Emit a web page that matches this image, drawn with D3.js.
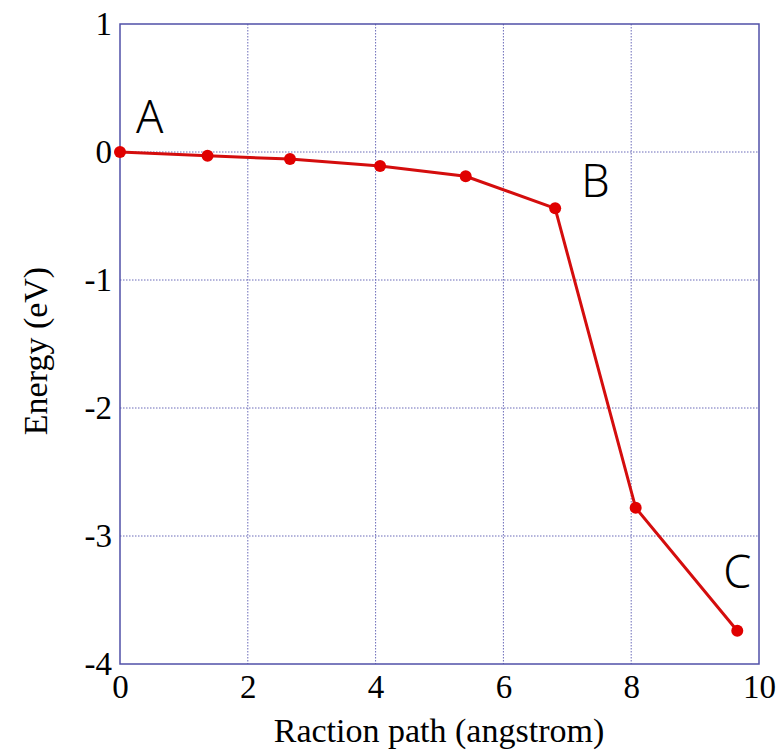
<!DOCTYPE html>
<html><head><meta charset="utf-8">
<script src="https://cdn.jsdelivr.net/npm/d3@7"></script>
<style>body{margin:0;background:#fff}</style>
</head><body>
<svg id="c" width="779" height="751"></svg>
<script>
const pathX = [0, 1.37, 2.66, 4.07, 5.41, 6.81, 8.07, 9.66];
const energy = [0, -0.03, -0.055, -0.11, -0.19, -0.44, -2.78, -3.74];
const xTicks = [0, 2, 4, 6, 8, 10];
const yTicks = [1, 0, -1, -2, -3, -4];
const pointLabels = [{name:"A", x:0.25, y:0.148}, {name:"B", x:7.22, y:-0.35}, {name:"C", x:9.44, y:-3.41}];

const svg = d3.select("#c");
const L = 120, R = 759, T = 24, B = 664;
const x = d3.scaleLinear().domain([0, 10]).range([L, R]);
const y = d3.scaleLinear().domain([-4, 1]).range([B, T]);
const frameColor = "#5050a8";
const serif = "'Liberation Serif','Times New Roman',serif";

// grid
svg.append("g").selectAll("line").data(xTicks.filter(d => d > 0 && d < 10)).join("line")
  .attr("x1", d => x(d)).attr("x2", d => x(d)).attr("y1", T).attr("y2", B)
  .attr("stroke", "#6a6ab8").attr("stroke-width", 1).attr("stroke-dasharray", "1.5,1.5");
svg.append("g").selectAll("line").data(yTicks.filter(d => d > -4 && d < 1)).join("line")
  .attr("y1", d => y(d)).attr("y2", d => y(d)).attr("x1", L).attr("x2", R)
  .attr("stroke", "#6a6ab8").attr("stroke-width", 1).attr("stroke-dasharray", "1.5,1.5");

// frame
svg.append("rect").attr("x", L).attr("y", T).attr("width", R - L).attr("height", B - T)
  .attr("fill", "none").attr("stroke", frameColor).attr("stroke-width", 1.5);

// axes tick labels
const xAxis = svg.append("g").attr("transform", `translate(0,${B})`)
  .call(d3.axisBottom(x).tickValues(xTicks).tickSize(0).tickPadding(11).tickFormat(d3.format("d")));
xAxis.select(".domain").remove();
xAxis.selectAll("text").attr("font-family", serif).attr("font-size", 33).attr("fill", "#000");

const yAxis = svg.append("g").attr("transform", `translate(${L},0)`)
  .call(d3.axisLeft(y).tickValues(yTicks).tickSize(0).tickPadding(8).tickFormat(d => d3.format("d")(d).replace("−", "-")));
yAxis.select(".domain").remove();
yAxis.selectAll("text").attr("font-family", serif).attr("font-size", 33).attr("fill", "#000");

// axis titles
svg.append("text").attr("x", 439).attr("y", 742).attr("text-anchor", "middle")
  .attr("font-family", serif).attr("font-size", 34).text("Raction path (angstrom)");
svg.append("text").attr("transform", "translate(47,351) rotate(-90)").attr("text-anchor", "middle")
  .attr("font-family", serif).attr("font-size", 34).text("Energy (eV)");

// line & points
const data = pathX.map((d, i) => ({x: d, y: energy[i]}));
svg.append("path").datum(data)
  .attr("d", d3.line().x(d => x(d.x)).y(d => y(d.y)))
  .attr("fill", "none").attr("stroke", "#d40d0d").attr("stroke-width", 3);
svg.append("g").selectAll("circle").data(data).join("circle")
  .attr("cx", d => x(d.x)).attr("cy", d => y(d.y)).attr("r", 6).attr("fill", "#e00000");

// point labels
svg.append("g").selectAll("text").data(pointLabels).join("text")
  .attr("x", d => x(d.x)).attr("y", d => y(d.y))
  .attr("font-family", "'Noto Sans','DejaVu Sans',sans-serif").attr("font-weight", 300).attr("font-size", 45).attr("fill", "#000")
  .text(d => d.name);
</script>
</body></html>
